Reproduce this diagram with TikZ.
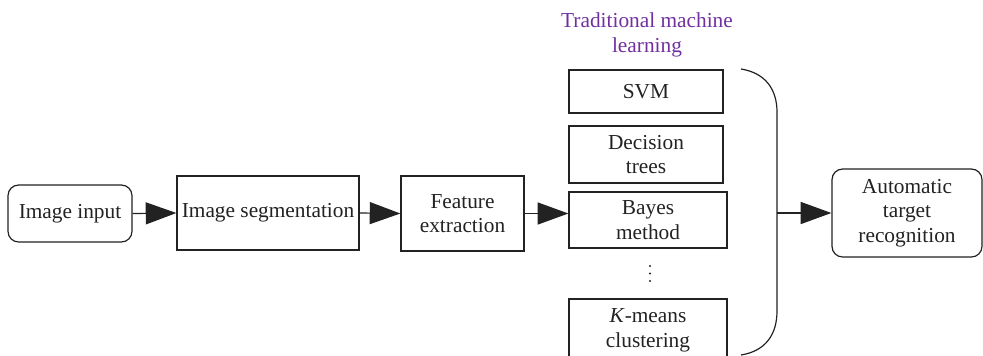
\documentclass[tikz,border=0pt]{standalone}
\usepackage{fontspec}
\setmainfont{Liberation Serif}
\usetikzlibrary{arrows.meta}
\definecolor{ink}{HTML}{222222}
\definecolor{ttl}{HTML}{7030A0}
\begin{document}
\begin{tikzpicture}[x=0.75pt,y=-0.75pt,
  every node/.style={font=\fontsize{16}{18.5}\selectfont, text=ink, align=center, inner sep=0pt},
  box/.style={draw=ink, line width=0.9pt},
  rbox/.style={box, rounded corners=8pt},
  conn/.style={draw=ink, line width=0.9pt, -{Triangle[length=23pt,width=16.5pt]}}]
\useasboundingbox (0,0) rectangle (983,355);
\node[rbox, minimum width=93pt, minimum height=42.75pt] (img) at (70,213.5) {Image input};
\node[box, minimum width=136.5pt, minimum height=55.5pt] (seg) at (268,213) {Image segmentation};
\node[box, minimum width=92.25pt, minimum height=56.25pt] (fe) at (462.5,213.5) {Feature\\extraction};
\node[text=ttl] (title) at (647,35) {Traditional machine\\learning};
\node[box, minimum width=115.5pt, minimum height=32.25pt] (svm) at (646,91.5) {SVM};
\node[box, minimum width=115.5pt, minimum height=42.75pt] (dt) at (646,154.5) {Decision\\trees};
\node[box, minimum width=118.5pt, minimum height=42pt] (bayes) at (648,220) {Bayes\\method};
\foreach \yy in {266,273.5,281} \fill[ink] (650,\yy) circle (0.9pt);
\node[box, minimum width=118.5pt, minimum height=47.25pt] (km) at (648,330.5) {\textit{K}-means\\clustering};
\node[rbox, minimum width=112.5pt, minimum height=66pt] (atr) at (907,213) {Automatic\\target\\recognition};
\coordinate (brtop) at (741,69);
\coordinate (brbot) at (741,355);
\coordinate (brmid) at (777,213);
\draw[draw=ink, line width=0.9pt] (brtop) .. controls (766,73) and (777,90) .. (777,112) -- (777,311) .. controls (777,334) and (766,351) .. (brbot);
\draw[conn] (img.east) -- (seg.west);
\draw[conn] (seg.east) -- (fe.west);
\draw[conn] (fe.east) -- (fe.east -| bayes.west);
\draw[conn] (brmid) -- (atr.west);
\end{tikzpicture}
\end{document}
